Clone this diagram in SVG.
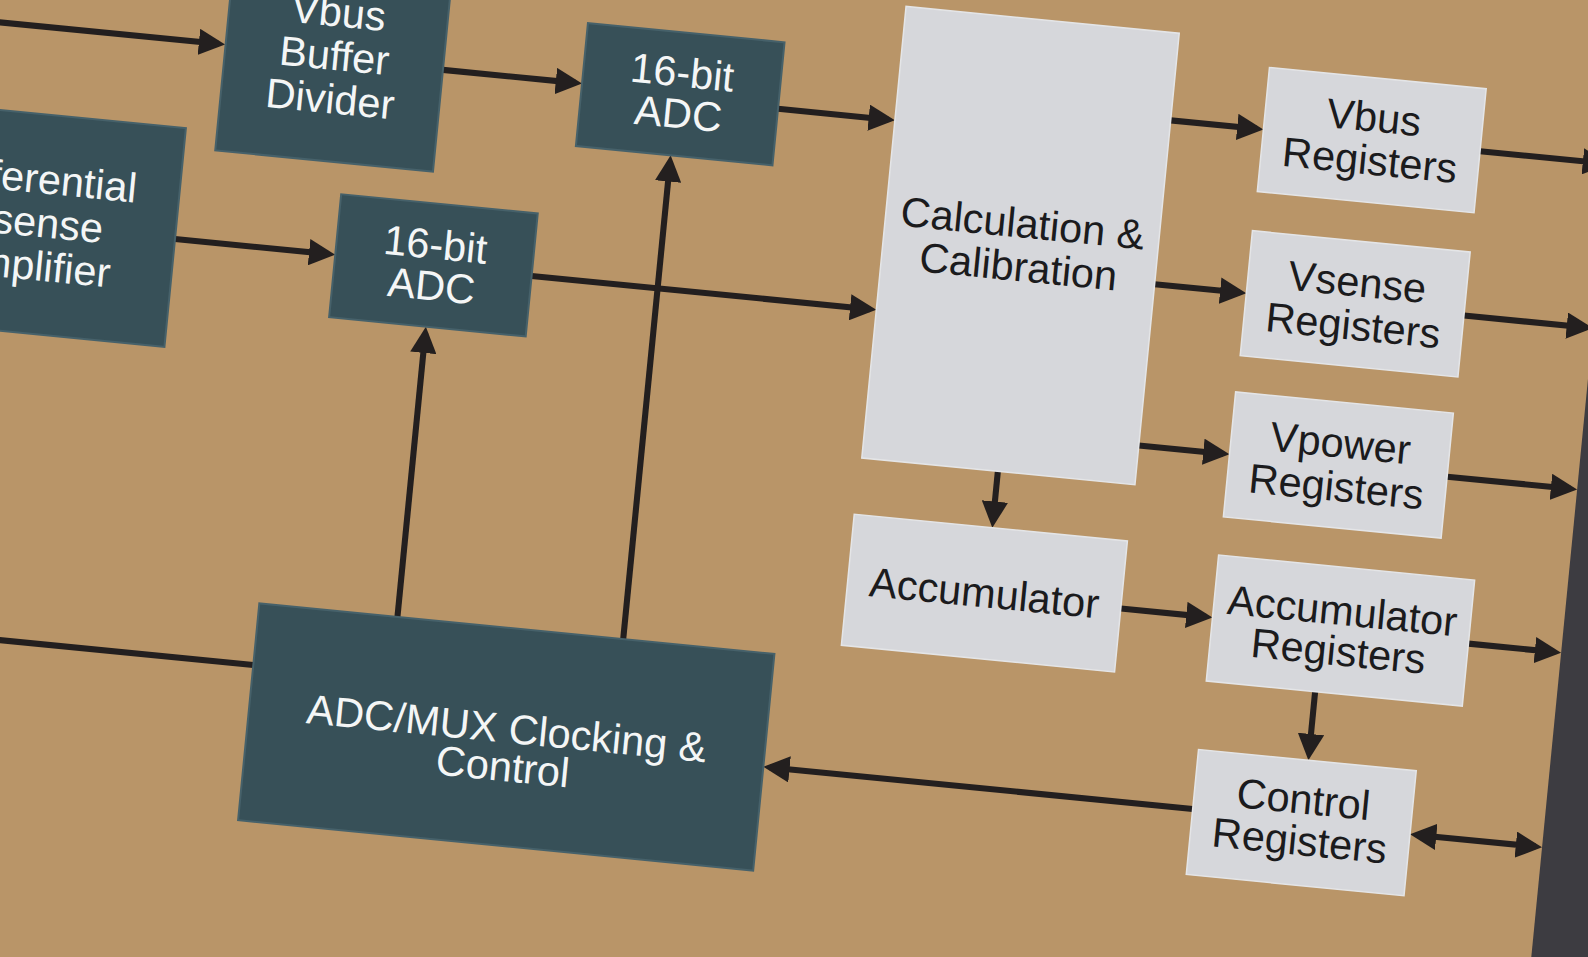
<svg xmlns="http://www.w3.org/2000/svg" width="1588" height="957" viewBox="0 0 1588 957">
<defs>
<style>
.dk{fill:#375058;stroke:#46616a;stroke-width:2}
.lt{fill:#d6d7db;stroke:#e4e5e7;stroke-width:1.5}
.tw{font-family:"Liberation Sans",Arial,sans-serif;font-size:41px;fill:#f4f6f6;text-anchor:middle}
.tb{font-family:"Liberation Sans",Arial,sans-serif;font-size:41px;fill:#1b1b1d;text-anchor:middle}
.ln{fill:none;stroke:#231f1f;stroke-width:6}
.ar{marker-end:url(#ah)}
.ar2{marker-start:url(#ah);marker-end:url(#ah)}
</style>
<marker id="ah" viewBox="0 0 10 10" refX="7.5" refY="5" markerUnits="userSpaceOnUse" markerWidth="26" markerHeight="26" orient="auto-start-reverse">
<path d="M0,0 L10,5 L0,10 z" fill="#231f1f"/>
</marker>
</defs>
<rect x="0" y="0" width="1588" height="957" fill="#b99568"/>
<g transform="scale(1.01276) rotate(5.6)">
<rect id="bar" x="1597" y="-300" width="300" height="1500" fill="#3d3c41"/>
<g id="connectors">
<path class="ln ar" d="M-100,22 L219,22"/>
<path class="ln ar" d="M442,26 L573.5,26"/>
<path class="ln ar" d="M775,32 L884.5,32"/>
<path class="ln ar" d="M195,218 L347.5,218"/>
<path class="ln ar" d="M549,220 L884.5,220"/>
<path class="ln ar" d="M450,568 L450,286.5"/>
<path class="ln ar" d="M674,568 L674,94.5"/>
<path class="ln" d="M-100,629 L313,629"/>
<path class="ln ar" d="M1162,5.5 L1247.5,5.5"/>
<path class="ln ar" d="M1162,168 L1246.5,168"/>
<path class="ln ar" d="M1162,328 L1245.5,328"/>
<path class="ln ar" d="M1026,367 L1026,416.5"/>
<path class="ln ar" d="M1160,490 L1244.5,490"/>
<path class="ln ar" d="M1359,553 L1359,614.5"/>
<path class="ln ar" d="M1250,680 L830.5,680"/>
<path class="ln ar2" d="M1472.5,684 L1590.5,684"/>
<path class="ln ar" d="M1469,6 L1590.5,6"/>
<path class="ln ar" d="M1469,169 L1590.5,169"/>
<path class="ln ar" d="M1468,329 L1590.5,329"/>
<path class="ln ar" d="M1505,491 L1590.5,491"/>
</g>
<g id="vbus_buffer"><rect class="dk" x="226" y="-82" width="216" height="209"/>
<text class="tw" x="334" y="-6.5">Vbus</text><text class="tw" x="334" y="36.5">Buffer</text><text class="tw" x="334" y="79.5">Divider</text></g>
<g id="diff_amp"><rect class="dk" x="-67" y="108" width="262" height="217"/>
<text class="tw" x="55" y="186">Differential</text><text class="tw" x="55" y="229">Vsense</text><text class="tw" x="55" y="272">Amplifier</text></g>
<g id="adc_upper"><rect class="dk" x="580" y="-34" width="195" height="122"/>
<text class="tw" x="677.5" y="19.5">16-bit</text><text class="tw" x="677.5" y="60.5">ADC</text></g>
<g id="adc_lower"><rect class="dk" x="354" y="158" width="195" height="122"/>
<text class="tw" x="451.5" y="212.5">16-bit</text><text class="tw" x="451.5" y="253.5">ADC</text></g>
<g id="adc_mux"><rect class="dk" x="313" y="568" width="511" height="215"/>
<text class="tw" x="568" y="681">ADC/MUX Clocking &amp;</text><text class="tw" x="568" y="719">Control</text></g>
<g id="calc"><rect class="lt" x="891" y="-81" width="271" height="448"/>
<text class="tb" x="1026.5" y="135">Calculation &amp;</text><text class="tb" x="1026.5" y="178">Calibration</text></g>
<g id="vbus_reg"><rect class="lt" x="1254" y="-56" width="215" height="123"/>
<text class="tb" x="1361.5" y="-3">Vbus</text><text class="tb" x="1361.5" y="39.5">Registers</text></g>
<g id="vsense_reg"><rect class="lt" x="1253" y="106" width="216" height="124"/>
<text class="tb" x="1361" y="160.5">Vsense</text><text class="tb" x="1361" y="203.5">Registers</text></g>
<g id="vpower_reg"><rect class="lt" x="1252" y="266" width="216" height="124"/>
<text class="tb" x="1360" y="320.5">Vpower</text><text class="tb" x="1360" y="363.5">Registers</text></g>
<g id="accumulator"><rect class="lt" x="889" y="423" width="271" height="130"/>
<text class="tb" x="1024.5" y="502">Accumulator</text></g>
<g id="acc_reg"><rect class="lt" x="1251" y="428" width="254" height="125"/>
<text class="tb" x="1378" y="485">Accumulator</text><text class="tb" x="1378" y="525">Registers</text></g>
<g id="ctrl_reg"><rect class="lt" x="1250" y="621" width="216" height="124"/>
<text class="tb" x="1358" y="674">Control</text><text class="tb" x="1358" y="715">Registers</text></g>
</g>
</svg>
